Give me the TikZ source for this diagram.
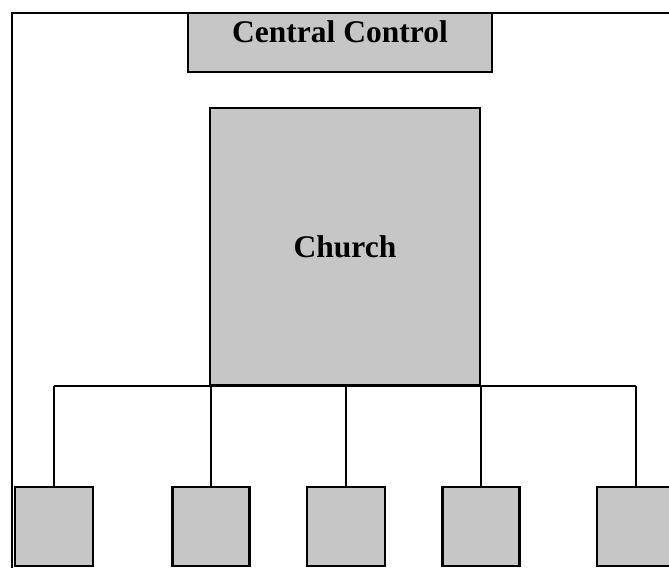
\documentclass[tikz,border=0pt]{standalone}
\usepackage{fontspec}
\setmainfont{Liberation Serif}
\definecolor{boxgray}{RGB}{198,198,198}
\begin{document}
\begin{tikzpicture}[x=1pt,y=-1pt,
  box/.style={draw=black, fill=boxgray, line width=2.2pt, inner sep=0pt},
  line/.style={draw=black, line width=2.2pt},
  lbl/.style={font=\bfseries\fontsize{31.5}{36}\selectfont}]
\useasboundingbox (0,0) rectangle (669,568);
\fill[white] (0,0) rectangle (669,568);
% frame
\coordinate (fbl) at (12,568);
\coordinate (ftl) at (12,13);
\coordinate (ftr) at (670,13);
\draw[line] (fbl) -- (ftl) -- (ftr);
% boxes
\node[box, minimum width=304pt, minimum height=59pt,
  label={[lbl, anchor=north, yshift=-5pt]north:Central Control}] (cc) at (340,42.5) {};
\node[box, lbl, minimum width=270pt, minimum height=277pt] (church) at (345,246.5) {Church};
\node[box, minimum width=78pt, minimum height=79pt] (b1) at (54,526.5) {};
\node[box, minimum width=77pt, minimum height=79pt] (b2) at (211,526.5) {};
\node[box, minimum width=78pt, minimum height=79pt] (b3) at (346,526.5) {};
\node[box, minimum width=77pt, minimum height=79pt] (b4) at (481,526.5) {};
\node[box, minimum width=78pt, minimum height=79pt] (b5) at (636,526.5) {};
% bus
\draw[line] (b1.north |- church.south) -- (b5.north |- church.south);
\foreach \b in {b1,b2,b3,b4,b5}{
  \draw[line] (\b.north) -- (\b.north |- church.south);
}
\end{tikzpicture}
\end{document}
